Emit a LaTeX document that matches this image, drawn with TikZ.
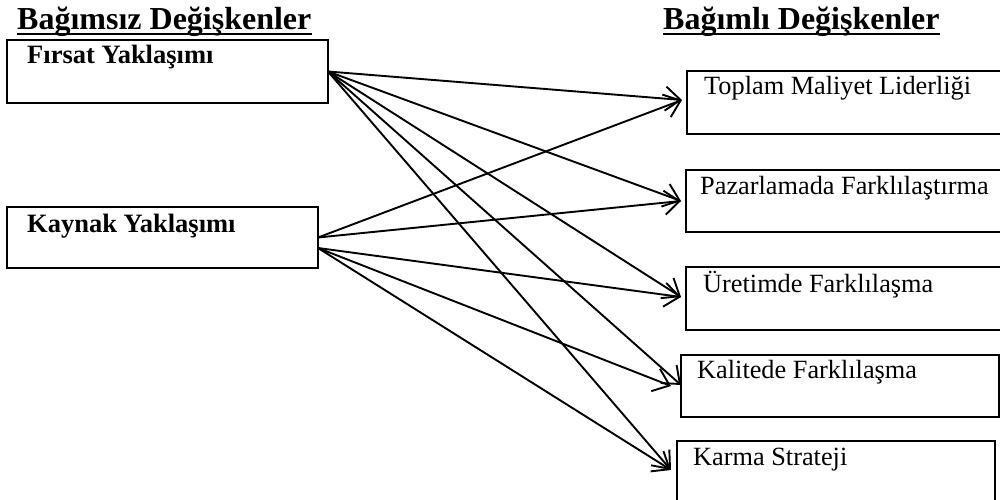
\documentclass[tikz,border=0pt]{standalone}
\usepackage{fontspec}
\setmainfont{Liberation Serif}
\usetikzlibrary{arrows.meta,calc}
\begin{document}
\begin{tikzpicture}[x=1pt,y=-1pt,
  box/.style={draw,line width=2.4pt,rectangle,inner sep=0pt,outer sep=0pt,anchor=north west},
  lbl/.style={anchor=base west,inner sep=0pt,font=\fontsize{26.3}{30}\selectfont},
  blbl/.style={anchor=base west,inner sep=0pt,font=\fontsize{26.5}{30}\selectfont\bfseries},
  ttl/.style={anchor=base west,inner sep=0pt,font=\fontsize{32}{36}\selectfont\bfseries},
  conn/.style={line width=1.9pt,-{Straight Barb[length=15pt,width=24pt,line width=1.9pt]}}
]
\useasboundingbox (0,0) rectangle (1000,500);

% titles
\node[ttl] (lt) at (17,30) {Bağımsız Değişkenler};
\node[ttl] (rt) at (663,30) {Bağımlı Değişkenler};
\draw[line width=2.8pt] ($(lt.base west)+(0,4)$) -- ($(lt.base east)+(0,4)$);
\draw[line width=2.8pt] ($(rt.base west)+(0,4)$) -- ($(rt.base east)+(0,4)$);

% boxes
\node[box,minimum width=321pt,minimum height=63pt] (fb) at (7,40) {};
\node[box,minimum width=311pt,minimum height=61pt] (kb) at (7,207) {};
\node[box,minimum width=330pt,minimum height=63pt] (tb) at (687,71) {};
\node[box,minimum width=330pt,minimum height=62pt] (pb) at (686,170) {};
\node[box,minimum width=330pt,minimum height=63pt] (ub) at (686,267) {};
\node[box,minimum width=318pt,minimum height=62pt] (qb) at (681,355) {};
\node[box,minimum width=318pt,minimum height=66pt] (mb) at (677,441) {};

% texts
\node[blbl] (ft) at (27,64) {Fırsat Yaklaşımı};
\node[blbl] (kt) at (27,232) {Kaynak Yaklaşımı};
\node[lbl] (tt) at (704,95) {Toplam Maliyet Liderliği};
\node[lbl] (pt) at (700,194) {Pazarlamada Farklılaştırma};
\node[lbl] (ut) at (703,292) {Üretimde Farklılaşma};
\node[lbl] (qt) at (697,378) {Kalitede Farklılaşma};
\node[lbl] (mt) at (693,465) {Karma Strateji};

% connector end points
\coordinate (fo) at (fb.east);
\coordinate (ko1) at (kb.east);
\coordinate (ko2) at ($(kb.east)+(0,10.5)$);
\coordinate (ti) at (682,100);
\coordinate (pi) at (681,201);
\coordinate (ui) at (681,297);
\coordinate (qi1) at (681,385);
\coordinate (qi2) at (671,386);
\coordinate (mi) at (671,470);

% connectors
\draw[conn] (fo) -- (ti);
\draw[conn] (fo) -- (pi);
\draw[conn] (fo) -- (ui);
\draw[conn] (fo) -- (qi1);
\draw[conn] (fo) -- (mi);
\draw[conn] (ko1) -- (ti);
\draw[conn] (ko1) -- (pi);
\draw[conn] (ko2) -- (ui);
\draw[conn] (ko2) -- (qi2);
\draw[conn] (ko2) -- (mi);
\end{tikzpicture}
\end{document}
